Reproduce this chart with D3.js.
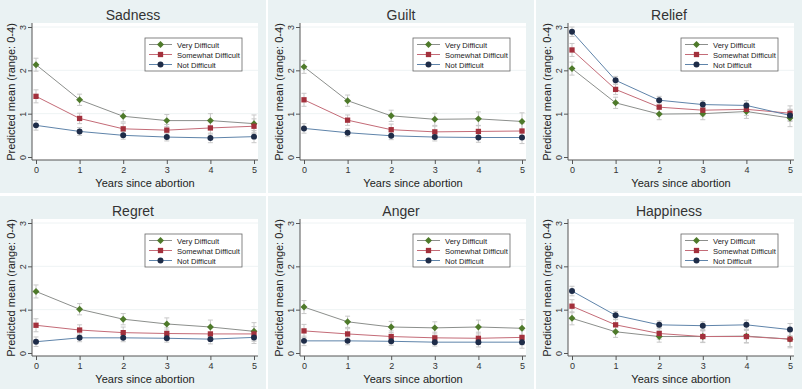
<!DOCTYPE html>
<html>
<head>
<meta charset="utf-8">
<script src="https://cdn.jsdelivr.net/npm/d3@7"></script>
<style>
  body { margin: 0; background: #ffffff; }
  svg { display: block; font-family: "Liberation Sans", Arial, sans-serif; }
</style>
</head>
<body>
<svg id="chart" width="802" height="389"></svg>
<script>
// Data
const years = [0, 1, 2, 3, 4, 5];
const groups = ["Very Difficult", "Somewhat Difficult", "Not Difficult"];
const emotions = ["Sadness", "Guilt", "Relief", "Regret", "Anger", "Happiness"];
const yTicks = [0, 1, 2, 3];

// predicted means: [Very, Somewhat, Not]
const sadness = [
  [2.13, 1.32, 0.94, 0.84, 0.84, 0.77],
  [1.40, 0.89, 0.65, 0.62, 0.67, 0.71],
  [0.73, 0.59, 0.50, 0.46, 0.44, 0.47]
];
const guilt = [
  [2.08, 1.30, 0.95, 0.87, 0.88, 0.82],
  [1.32, 0.85, 0.63, 0.58, 0.59, 0.60],
  [0.66, 0.56, 0.49, 0.46, 0.45, 0.45]
];
const relief = [
  [2.04, 1.25, 0.99, 1.00, 1.05, 0.90],
  [2.47, 1.56, 1.15, 1.08, 1.10, 1.01],
  [2.89, 1.77, 1.31, 1.21, 1.19, 0.96]
];
const regret = [
  [1.42, 1.01, 0.78, 0.67, 0.60, 0.50],
  [0.64, 0.53, 0.47, 0.45, 0.44, 0.44],
  [0.26, 0.35, 0.35, 0.34, 0.32, 0.36]
];
const anger = [
  [1.06, 0.72, 0.60, 0.58, 0.60, 0.57],
  [0.51, 0.44, 0.38, 0.35, 0.34, 0.36],
  [0.28, 0.28, 0.27, 0.25, 0.25, 0.25]
];
const happiness = [
  [0.80, 0.49, 0.38, 0.38, 0.39, 0.32],
  [1.08, 0.65, 0.45, 0.38, 0.38, 0.32],
  [1.43, 0.87, 0.65, 0.63, 0.65, 0.54]
];
// half-width of the confidence interval per group
const ciVery = [0.15, 0.13, 0.13, 0.14, 0.16, 0.2];
const ciSomewhat = [0.15, 0.12, 0.13, 0.13, 0.14, 0.17];
const ciNot = [0.11, 0.09, 0.09, 0.09, 0.11, 0.14];

const panelData = [sadness, guilt, relief, regret, anger, happiness];
const ciData = [ciVery, ciSomewhat, ciNot];

const markerColor = ["#4e7a2a", "#a3303c", "#1e2c48"];
const lineColor = ["#8c8f8c", "#c46b77", "#5f84aa"];
// diamond = square turned 45 degrees
const markerShape = [d3.symbolSquare, d3.symbolSquare, d3.symbolCircle];
const markerRotate = [45, 0, 0];
const markerSize = [24, 28, 28];

const svg = d3.select("#chart");
svg.append("rect").attr("width", 802).attr("height", 389).attr("fill", "#ffffff");

const panelW = 266, panelH = 193;
const colX = [0, 268, 536];
const rowY = [0, 196];

const x = d3.scaleLinear().domain([0, 5]).range([36, 254]);
const y = d3.scaleLinear().domain([0, 3]).range([157, 27]);

emotions.forEach((name, i) => {
  const g = svg.append("g")
    .attr("transform", `translate(${colX[i % 3]},${rowY[Math.floor(i / 3)]})`);

  // panel background and plot region
  g.append("rect").attr("width", panelW).attr("height", panelH).attr("fill", "#eaf2f3");
  g.append("rect").attr("x", 32).attr("y", 23).attr("width", 226).attr("height", 137).attr("fill", "#ffffff");

  // grid lines
  g.selectAll(".grid").data(yTicks.filter(t => t > 0)).enter().append("line")
    .attr("x1", 32).attr("x2", 258)
    .attr("y1", d => y(d)).attr("y2", d => y(d))
    .attr("stroke", "#eef3f4").attr("stroke-width", 1);

  // axes
  const yAxis = g.append("g").attr("transform", "translate(32,0)")
    .call(d3.axisLeft(y).tickValues(yTicks).tickSize(4).tickFormat(d3.format("d")));
  yAxis.select(".domain").attr("d", "M0,23V160").attr("stroke", "#555");
  yAxis.selectAll(".tick line").attr("stroke", "#555");
  yAxis.selectAll(".tick text")
    .attr("x", 0).attr("dy", 0)
    .attr("transform", "translate(-6,0) rotate(-90)")
    .attr("text-anchor", "middle")
    .attr("fill", "#333").style("font-size", "9px");

  const xAxis = g.append("g").attr("transform", "translate(0,160)")
    .call(d3.axisBottom(x).tickValues(years).tickSize(4).tickFormat(d3.format("d")));
  xAxis.select(".domain").attr("d", "M32,0H258").attr("stroke", "#555");
  xAxis.selectAll(".tick line").attr("stroke", "#555");
  xAxis.selectAll(".tick text").attr("y", 7).attr("fill", "#333").style("font-size", "9px");

  // titles
  g.append("text").attr("x", 133).attr("y", 20).attr("text-anchor", "middle")
    .attr("fill", "#333").style("font-size", "14px").text(name);
  g.append("text").attr("x", 145).attr("y", 187).attr("text-anchor", "middle")
    .attr("fill", "#222").style("font-size", "11px").text("Years since abortion");
  g.append("text").attr("transform", "translate(15,92) rotate(-90)").attr("text-anchor", "middle")
    .attr("fill", "#222").style("font-size", "11px").text("Predicted mean (range: 0-4)");

  const line = d3.line().x((d, k) => x(years[k])).y(d => y(d));

  panelData[i].forEach((vals, s) => {
    // error bars
    vals.forEach((v, k) => {
      const lo = y(v - ciData[s][k]), hi = y(v + ciData[s][k]), cx = x(years[k]);
      g.append("path")
        .attr("d", `M${cx - 2.5},${hi}H${cx + 2.5}M${cx},${hi}V${lo}M${cx - 2.5},${lo}H${cx + 2.5}`)
        .attr("stroke", "#c8c8c8").attr("stroke-width", 1).attr("fill", "none");
    });
  });

  panelData[i].forEach((vals, s) => {
    g.append("path").datum(vals)
      .attr("d", line).attr("fill", "none")
      .attr("stroke", lineColor[s]).attr("stroke-width", 1);
    g.selectAll(".m" + s).data(vals).enter().append("path")
      .attr("transform", (d, k) => `translate(${x(years[k])},${y(d)}) rotate(${markerRotate[s]})`)
      .attr("d", d3.symbol().type(markerShape[s]).size(markerSize[s]))
      .attr("fill", markerColor[s]);
  });

  // legend
  const legend = g.append("g").attr("transform", "translate(145,38)");
  legend.append("rect").attr("width", 97).attr("height", 33)
    .attr("fill", "#ffffff").attr("stroke", "#666").attr("stroke-width", 0.8);
  groups.forEach((grp, s) => {
    const ly = 6.5 + s * 10;
    legend.append("line").attr("x1", 4).attr("x2", 27).attr("y1", ly).attr("y2", ly)
      .attr("stroke", lineColor[s]).attr("stroke-width", 1);
    legend.append("path").attr("transform", `translate(15.5,${ly}) rotate(${markerRotate[s]})`)
      .attr("d", d3.symbol().type(markerShape[s]).size(markerSize[s]))
      .attr("fill", markerColor[s]);
    legend.append("text").attr("x", 32).attr("y", ly + 3)
      .attr("fill", "#222").style("font-size", "7.6px").text(grp);
  });
});
</script>
</body>
</html>
